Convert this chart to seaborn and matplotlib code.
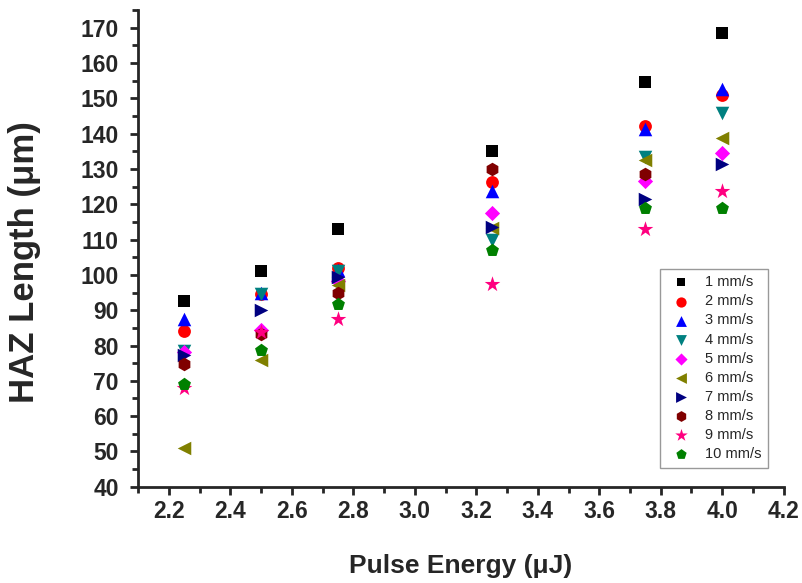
import numpy as np
import pandas as pd
import matplotlib
matplotlib.use("Agg")
import matplotlib.pyplot as plt
import seaborn as sns
from matplotlib.ticker import MultipleLocator

# -------------------------------------
# DATA
# -------------------------------------
energy = [2.25, 2.5, 2.75, 3.25, 3.75, 4.0]

speeds = ["1 mm/s", "2 mm/s", "3 mm/s", "4 mm/s", "5 mm/s",
          "6 mm/s", "7 mm/s", "8 mm/s", "9 mm/s", "10 mm/s"]

haz_1 = [92.5, 101.0, 113.0, 135.0, 154.5, 168.5]
haz_2 = [84.0, 94.5, 101.8, 126.3, 142.0, 150.8]
haz_3 = [87.5, 95.0, 101.5, 123.8, 141.3, 152.5]
haz_4 = [78.5, 94.5, 101.0, 110.0, 133.5, 145.8]
haz_5 = [78.2, 84.5, 98.3, 117.5, 126.5, 134.5]
haz_6 = [51.0, 75.8, 97.0, 113.2, 132.5, 138.8]
haz_7 = [77.2, 90.0, 99.3, 113.5, 121.5, 131.5]
haz_8 = [74.8, 83.2, 95.0, 130.0, 128.5, None]
haz_9 = [68.0, 83.8, 87.5, 97.5, 113.0, 123.8]
haz_10 = [69.0, 78.6, 91.8, 107.0, 119.0, 118.8]

all_haz = [haz_1, haz_2, haz_3, haz_4, haz_5,
           haz_6, haz_7, haz_8, haz_9, haz_10]

colors = ["#000000", "#FF0000", "#0000FF", "#008080", "#FF00FF",
          "#808000", "#000080", "#800000", "#FF0080", "#008000"]
markers = ["s", "o", "^", "v", "D", "<", ">", "h", "*", "p"]

# -------------------------------------
# LONG FORMAT TABLE
# -------------------------------------
rows = []
for spd, vals in zip(speeds, all_haz):
    for e, v in zip(energy, vals):
        if v is not None:
            rows.append({"energy": e, "haz": v, "speed": spd})
df = pd.DataFrame(rows)

# -------------------------------------
# PLOT
# -------------------------------------
sns.set_style("ticks")
plt.rcParams["font.family"] = ["Liberation Sans", "DejaVu Sans"]

fig = plt.figure(figsize=(8.03, 5.83), dpi=100)
ax = fig.add_axes([0.172, 0.165, 0.804, 0.818])

sizes = {"s": 65, "o": 85, "^": 95, "v": 95, "D": 60,
         "<": 95, ">": 95, "h": 95, "*": 140, "p": 95}

for spd, col, mk in zip(speeds, colors, markers):
    sub = df[df["speed"] == spd]
    sns.scatterplot(data=sub, x="energy", y="haz", color=col, marker=mk,
                    s=sizes[mk], linewidth=0, ax=ax, label=spd, zorder=3)

ax.set_xlim(2.1, 4.2)
ax.set_ylim(40, 175)
ticks_x = np.round(np.arange(2.2, 4.21, 0.2), 1)
ax.set_xticks(ticks_x)
ax.set_xticklabels([f"{t:.1f}" for t in ticks_x])
ax.xaxis.set_minor_locator(MultipleLocator(0.1))
ax.yaxis.set_major_locator(MultipleLocator(10))
ax.yaxis.set_minor_locator(MultipleLocator(5))

sns.despine(ax=ax)
for side in ["left", "bottom"]:
    ax.spines[side].set_linewidth(2)
ax.tick_params(which="major", direction="out", length=6, width=2,
               labelsize=16.5)
ax.tick_params(which="minor", direction="out", length=4, width=2)
ax.tick_params(axis="y", which="major", pad=8)
for lbl in ax.get_xticklabels() + ax.get_yticklabels():
    lbl.set_fontweight("bold")

ax.set_xlabel("Pulse Energy (\u03bcJ)", fontsize=19, fontweight="bold",
              labelpad=22)
ax.set_ylabel("HAZ Length (\u03bcm)", fontsize=25, fontweight="bold")
ax.yaxis.set_label_coords(-0.150, 0.472)

leg = ax.legend(loc="lower right", bbox_to_anchor=(0.975, 0.04),
                borderaxespad=0, fontsize=10.5, frameon=True,
                fancybox=False, edgecolor="#808080", handletextpad=0.6,
                borderpad=0.45, labelspacing=0.35, markerscale=0.8)
leg.get_frame().set_linewidth(1)

fig.savefig("out.png", dpi=100)
